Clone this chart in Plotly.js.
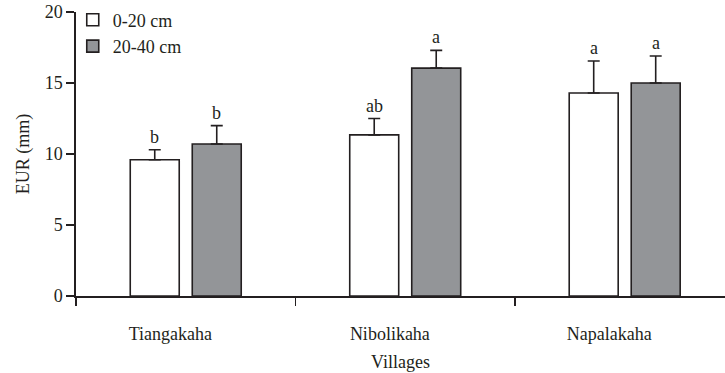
<!DOCTYPE html>
<html>
<head>
<meta charset="utf-8">
<script src="https://cdn.plot.ly/plotly-3.0.1.min.js"></script>
<style>html,body{margin:0;padding:0;background:#fff;}#chart{width:725px;height:373px;}</style>
</head>
<body>
<div id="chart"></div>
<script>
var villages = ["Tiangakaha", "Nibolikaha", "Napalakaha"];
var depth1Name = "0-20 cm";
var depth2Name = "20-40 cm";
var depth1 = [9.6, 11.35, 14.3];
var depth1Err = [0.7, 1.15, 2.25];
var depth1Letters = ["b", "ab", "a"];
var depth2 = [10.7, 16.05, 15.0];
var depth2Err = [1.3, 1.25, 1.9];
var depth2Letters = ["b", "a", "a"];
var yTicks = [0, 5, 10, 15, 20];

var ink = "#231f20";
var font = "Liberation Serif, Times New Roman, serif";
var fs = 18;
var xIdx = villages.map(function (v, i) { return i; });

var tr1 = {
  type: "bar", name: depth1Name, x: xIdx, y: depth1,
  marker: {color: "#ffffff", line: {color: ink, width: 1.6}},
  error_y: {type: "data", array: depth1Err, arrayminus: depth1Err.map(function(){return 0;}), symmetric: false, color: ink, thickness: 1.6, width: 6}
};
var tr2 = {
  type: "bar", name: depth2Name, x: xIdx, y: depth2,
  marker: {color: "#939598", line: {color: ink, width: 1.6}},
  error_y: {type: "data", array: depth2Err, arrayminus: depth2Err.map(function(){return 0;}), symmetric: false, color: ink, thickness: 1.6, width: 6}
};

var slot = 62 / 219.5;
var ann = [];
xIdx.forEach(function (i) {
  ann.push({x: i - slot / 2, y: depth1[i] + depth1Err[i], xref: "x", yref: "y", text: depth1Letters[i], showarrow: false, yanchor: "bottom", yshift: 1, font: {family: font, size: fs, color: ink}});
  ann.push({x: i + slot / 2, y: depth2[i] + depth2Err[i], xref: "x", yref: "y", text: depth2Letters[i], showarrow: false, yanchor: "bottom", yshift: 1, font: {family: font, size: fs, color: ink}});
});

var layout = {
  width: 725, height: 373,
  margin: {l: 76, r: 0, t: 12, b: 77},
  paper_bgcolor: "#ffffff", plot_bgcolor: "#ffffff",
  font: {family: font, size: fs, color: ink},
  barmode: "group", bargap: 0.435, bargroupgap: 0.21,
  showlegend: true,
  legend: {x: -0.005, y: 1.037, xanchor: "left", yanchor: "top", bgcolor: "rgba(0,0,0,0)", font: {family: font, size: fs, color: ink}, traceorder: "normal", itemwidth: 30},
  xaxis: {
    range: [-0.5, 2.457], showgrid: false, zeroline: false,
    showline: true, linecolor: ink, linewidth: 1.6,
    tickmode: "array", tickvals: xIdx.map(function (i) { return i - 0.07; }), ticktext: villages,
    ticks: "", ticklabelstandoff: 21,
    tickfont: {family: font, size: fs, color: ink},
    minor: {tickmode: "array", tickvals: [-0.5, 0.5, 1.5], ticks: "outside", ticklen: 8, tickwidth: 1.6, tickcolor: ink, showgrid: false},
    title: {text: "Villages", font: {family: font, size: fs, color: ink}, standoff: 12},
    automargin: false, fixedrange: true
  },
  yaxis: {
    range: [0, 20], showgrid: false, zeroline: false,
    showline: true, linecolor: ink, linewidth: 1.6,
    tickmode: "array", tickvals: yTicks, ticktext: yTicks.map(String),
    ticks: "outside", ticklen: 8, tickwidth: 1.6, tickcolor: ink,
    tickfont: {family: font, size: fs, color: ink},
    title: {text: "EUR (mm)", font: {family: font, size: fs, color: ink}, standoff: 10},
    automargin: false, fixedrange: true
  },
  annotations: ann
};

Plotly.newPlot("chart", [tr1, tr2], layout, {displayModeBar: false, staticPlot: true});
</script>
</body>
</html>
